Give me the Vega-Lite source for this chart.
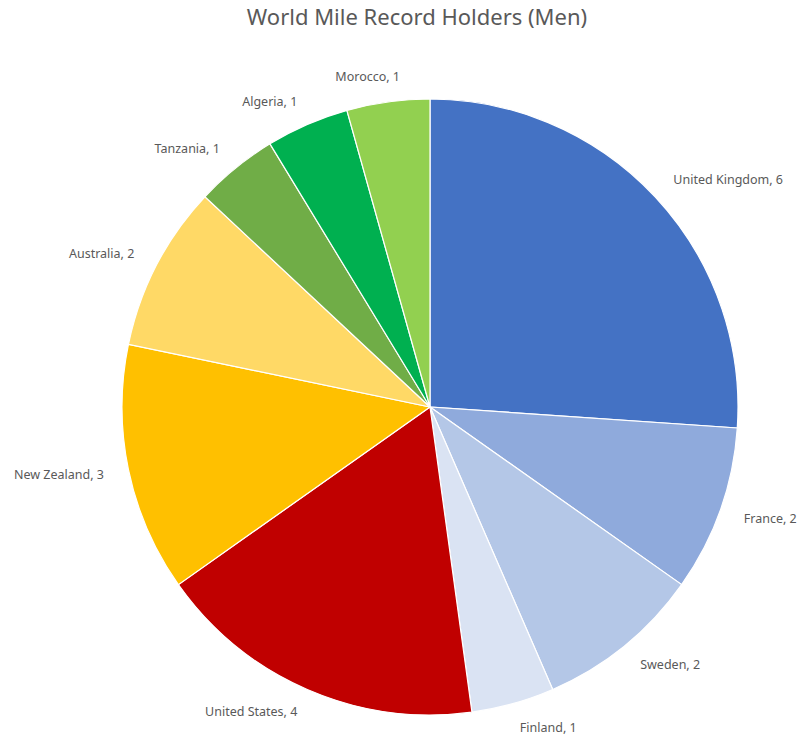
{
  "$schema": "https://vega.github.io/schema/vega-lite/v6.json",
  "autosize": "none",
  "width": 600,
  "height": 600,
  "padding": {"left": 130, "top": 107, "right": 68, "bottom": 29},
  "background": "white",
  "title": {
    "text": "World Mile Record Holders (Men)",
    "font": "Noto Sans",
    "fontSize": 22,
    "fontWeight": "normal",
    "color": "#595959",
    "anchor": "middle",
    "frame": "group",
    "dx": -13,
    "offset": 41
  },
  "config": {"view": {"stroke": null}},
  "data": {
    "values": [
      {"country": "United Kingdom", "holders": 6},
      {"country": "France", "holders": 2},
      {"country": "Sweden", "holders": 2},
      {"country": "Finland", "holders": 1},
      {"country": "United States", "holders": 4},
      {"country": "New Zealand", "holders": 3},
      {"country": "Australia", "holders": 2},
      {"country": "Tanzania", "holders": 1},
      {"country": "Algeria", "holders": 1},
      {"country": "Morocco", "holders": 1}
    ]
  },
  "transform": [
    {"window": [{"op": "row_number", "as": "idx"}]},
    {"stack": "holders", "groupby": [], "sort": [{"field": "idx", "order": "ascending"}], "as": ["start", "end"]},
    {"calculate": "(datum.start + datum.end) / 2", "as": "mid"},
    {"calculate": "datum.country + ', ' + datum.holders", "as": "label"}
  ],
  "layer": [
    {
      "mark": {"type": "arc", "radius": 308, "stroke": "white", "strokeWidth": 1.2},
      "encoding": {
        "theta": {"field": "start", "type": "quantitative", "scale": {"domain": [0, 23]}},
        "theta2": {"field": "end"},
        "color": {
          "field": "country",
          "type": "nominal",
          "legend": null,
          "scale": {
            "domain": ["United Kingdom", "France", "Sweden", "Finland", "United States", "New Zealand", "Australia", "Tanzania", "Algeria", "Morocco"],
            "range": ["#4472C4", "#8FAADC", "#B4C7E7", "#DAE3F3", "#C00000", "#FFC000", "#FFD966", "#70AD47", "#00B050", "#92D050"]
          }
        }
      }
    },
    {
      "transform": [{"filter": "indexof(['United Kingdom','France','Sweden','Finland'], datum.country) >= 0"}],
      "mark": {"type": "text", "radius": 333, "align": "left", "baseline": "middle", "font": "Noto Sans", "fontSize": 12.5, "color": "#595959"},
      "encoding": {
        "theta": {"field": "mid", "type": "quantitative", "scale": {"domain": [0, 23]}},
        "text": {"field": "label"}
      }
    },
    {
      "transform": [{"filter": "indexof(['United States','New Zealand','Australia','Tanzania','Algeria'], datum.country) >= 0"}],
      "mark": {"type": "text", "radius": 333, "align": "right", "baseline": "middle", "font": "Noto Sans", "fontSize": 12.5, "color": "#595959"},
      "encoding": {
        "theta": {"field": "mid", "type": "quantitative", "scale": {"domain": [0, 23]}},
        "text": {"field": "label"}
      }
    },
    {
      "transform": [{"filter": "datum.country == 'Morocco'"}],
      "mark": {"type": "text", "radius": 333, "align": "center", "dx": -17, "baseline": "middle", "font": "Noto Sans", "fontSize": 12.5, "color": "#595959"},
      "encoding": {
        "theta": {"field": "mid", "type": "quantitative", "scale": {"domain": [0, 23]}},
        "text": {"field": "label"}
      }
    }
  ]
}
